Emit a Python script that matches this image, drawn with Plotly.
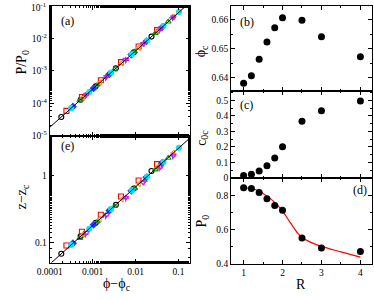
import plotly.graph_objects as go

# ---------------- data: panels (a) and (e) ----------------
# series of phi - phi_c, P/P0 and z - z_c (one list per series)
dphi_s1 = [1.86e-4, 5.25e-4, 1.175e-3, 3.47e-3, 9.12e-3, 2.34e-2]
pa_s1 = [3.78e-5, 1.28e-4, 3.32e-4, 1.19e-3, 3.72e-3, 1.135e-2]
ze_s1 = [0.0678, 0.1236, 0.197, 0.369, 0.647, 1.18]

dphi_s2 = [2.45e-4, 5.62e-4, 1.55e-3, 4.57e-3, 1.175e-2, 3.16e-2]
pa_s2 = [5.8e-5, 1.55e-4, 5.1e-4, 1.85e-3, 5.6e-3, 1.8e-2]
ze_s2 = [0.090, 0.145, 0.26, 0.49, 0.85, 1.5]

dphi_s3 = [5.01e-4, 1.29e-3, 3.24e-3, 9.55e-3, 2.88e-2, 5.75e-2]
pa_s3 = [1.21e-4, 3.70e-4, 1.10e-3, 3.93e-3, 1.45e-2, 3.27e-2]
ze_s3 = [0.116, 0.205, 0.350, 0.655, 1.24, 1.85]

dphi_s4 = [3.47e-4, 1.05e-3, 2.45e-3, 7.94e-3, 1.78e-2, 4.07e-2]
pa_s4 = [7.85e-5, 2.90e-4, 7.91e-4, 3.16e-3, 8.18e-3, 2.18e-2]
ze_s4 = [0.0970, 0.1845, 0.302, 0.597, 0.953, 1.54]

dphi_s5 = [3.16e-4, 8.32e-4, 2.69e-3, 8.13e-3, 1.86e-2, 4.47e-2, 0.102]
pa_s5 = [7.05e-5, 2.21e-4, 8.81e-4, 3.25e-3, 8.65e-3, 2.43e-2, 6.46e-2]
ze_s5 = [0.0920, 0.161, 0.318, 0.605, 0.979, 1.63, 2.63]

dphi_s6 = [6.03e-4, 1.48e-3, 4.79e-3, 1.20e-2, 3.31e-2, 7.59e-2]
pa_s6 = [1.51e-4, 4.36e-4, 1.74e-3, 5.15e-3, 1.71e-2, 4.53e-2]
ze_s6 = [0.1337, 0.225, 0.445, 0.759, 1.37, 2.21]

dphi_s7 = [7.08e-4, 2.09e-3, 5.89e-3, 1.51e-2, 3.80e-2, 7.59e-2]
pa_s7 = [1.82e-4, 6.55e-4, 2.22e-3, 6.76e-3, 2.00e-2, 4.53e-2]
ze_s7 = [0.140, 0.26, 0.47, 0.80, 1.36, 2.03]

dphi_s8 = [6.76e-4, 2.00e-3, 5.89e-3, 1.58e-2, 3.55e-2, 7.24e-2]
pa_s8 = [1.73e-4, 6.19e-4, 2.1e-3, 7.14e-3, 1.85e-2, 4.30e-2]
ze_s8 = [0.133, 0.25, 0.46, 0.83, 1.31, 1.98]

fit_dphi = [1e-4, 0.2]
fit_pa = [1.81e-5, 0.142]
fit_ze = [0.0472, 3.88]

# ---------------- data: panels (b), (c), (d) ----------------
R = [1, 1.2, 1.4, 1.6, 1.8, 2, 2.5, 3, 4]
phi_c = [0.638, 0.6406, 0.6463, 0.6523, 0.6572, 0.6607, 0.6598, 0.6541, 0.6472]
c0c = [0.015, 0.023, 0.044, 0.078, 0.128, 0.200, 0.365, 0.432, 0.495]
P0 = [0.846, 0.842, 0.819, 0.781, 0.742, 0.713, 0.549, 0.491, 0.470]
R_fit = [1, 1.2, 1.4, 1.6, 1.8, 2, 2.2, 2.4, 2.5, 2.7, 3, 3.5, 4]
P0_fit = [0.846, 0.842, 0.826, 0.797, 0.760, 0.708, 0.640, 0.575, 0.553, 0.527, 0.500, 0.468, 0.437]

FONT = "Liberation Serif"
TF = 9.5

series = [
    (dphi_s1, pa_s1, ze_s1, "circle-open", "black"),
    (dphi_s2, pa_s2, ze_s2, "square-open", "red"),
    (dphi_s3, pa_s3, ze_s3, "triangle-up-open", "#00a000"),
    (dphi_s4, pa_s4, ze_s4, "diamond", "#1f3fff"),
    (dphi_s5, pa_s5, ze_s5, "circle", "#00e5ff"),
    (dphi_s6, pa_s6, ze_s6, "triangle-left-open", "#ff9a00"),
    (dphi_s7, pa_s7, ze_s7, "triangle-down-open", "#ff00ff"),
    (dphi_s8, pa_s8, ze_s8, "cross-thin-open", "#9440d0"),
]

fig = go.Figure()
for dx, pa, ze, sym, col in series:
    mk = dict(symbol=sym, size=5, color=col, line=dict(color=col, width=1.1))
    fig.add_trace(go.Scatter(x=dx, y=pa, mode="markers", marker=mk, xaxis="x", yaxis="y"))
    fig.add_trace(go.Scatter(x=dx, y=ze, mode="markers", marker=mk, xaxis="x2", yaxis="y2"))

fig.add_trace(go.Scatter(x=fit_dphi, y=fit_pa, mode="lines", line=dict(color="black", width=1), xaxis="x", yaxis="y"))
fig.add_trace(go.Scatter(x=fit_dphi, y=fit_ze, mode="lines", line=dict(color="black", width=1), xaxis="x2", yaxis="y2"))

dot = dict(symbol="circle", size=7, color="black")
fig.add_trace(go.Scatter(x=R, y=phi_c, mode="markers", marker=dot, xaxis="x3", yaxis="y3"))
fig.add_trace(go.Scatter(x=R, y=c0c, mode="markers", marker=dot, xaxis="x4", yaxis="y4"))
fig.add_trace(go.Scatter(x=R_fit, y=P0_fit, mode="lines", line=dict(color="red", width=1.2, shape="spline"), xaxis="x5", yaxis="y5"))
fig.add_trace(go.Scatter(x=R, y=P0, mode="markers", marker=dot, xaxis="x5", yaxis="y5"))

W, H = 374, 300
def px_x(a, b):
    return [a / W, b / W]
def px_y(top, bot):
    return [1 - bot / H, 1 - top / H]

base = dict(showline=True, linecolor="black", linewidth=1, mirror="ticks", ticks="inside",
            ticklen=4, tickwidth=1, tickcolor="black", showgrid=False, zeroline=False,
            tickfont=dict(family=FONT, size=TF, color="black"))
minor = dict(ticks="inside", ticklen=2, tickcolor="black", tickwidth=1, showgrid=False)

LX = px_x(38, 183)
RX = px_x(226, 372)

dec_vals = [1e-4, 1e-3, 1e-2, 1e-1]
dec_text = ["0.0001", "0.001", "0.01", "0.1"]
pa_vals = [1e-5, 1e-4, 1e-3, 1e-2, 1e-1]
pa_text = ["10<sup>-5</sup>", "10<sup>-4</sup>", "10<sup>-3</sup>", "10<sup>-2</sup>", ""]

fig.update_layout(
    width=W, height=H, margin=dict(l=0, r=0, t=0, b=0),
    paper_bgcolor="white", plot_bgcolor="white", showlegend=False,
    xaxis=dict(base, type="log", range=[-4.001, -0.742], domain=LX, anchor="y",
               tickvals=dec_vals, showticklabels=False, minor=minor),
    yaxis=dict(base, type="log", range=[-5.001, -0.998], domain=px_y(6, 138), anchor="x",
               tickvals=pa_vals, ticktext=pa_text, minor=minor),
    xaxis2=dict(base, type="log", range=[-4.001, -0.742], domain=LX, anchor="y2",
                tickvals=dec_vals, ticktext=dec_text, minor=minor),
    yaxis2=dict(base, type="log", range=[-1.301, 0.602], domain=px_y(138, 267), anchor="x2",
                tickvals=[0.1, 1], ticktext=["0.1", "1"], minor=minor),
    xaxis3=dict(base, range=[0.68, 4.3], domain=RX, anchor="y3", dtick=1, tick0=0,
                showticklabels=False, minor=dict(minor, dtick=0.5)),
    yaxis3=dict(base, range=[0.6352, 0.6648], domain=px_y(6, 93), anchor="x3",
                tickvals=[0.64, 0.65, 0.66], ticktext=["0.64", "0.65", "0.66"],
                minor=dict(minor, dtick=0.005, tick0=0.635)),
    xaxis4=dict(base, range=[0.68, 4.3], domain=RX, anchor="y4", dtick=1, tick0=0,
                showticklabels=False, minor=dict(minor, dtick=0.5)),
    yaxis4=dict(base, range=[-0.001, 0.557], domain=px_y(93, 181), anchor="x4",
                tickvals=[0, 0.1, 0.2, 0.3, 0.4, 0.5], ticktext=["0", "0.1", "0.2", "0.3", "0.4", "0.5"],
                minor=dict(minor, dtick=0.05, tick0=0)),
    xaxis5=dict(base, range=[0.68, 4.3], domain=RX, anchor="y5", dtick=1, tick0=0,
                minor=dict(minor, dtick=0.5)),
    yaxis5=dict(base, range=[0.399, 0.904], domain=px_y(181, 268), anchor="x5",
                tickvals=[0.4, 0.6, 0.8], ticktext=["0.4", "0.6", "0.8"],
                minor=dict(minor, dtick=0.1, tick0=0)),
)

def ann(text, x, y, size=13, angle=0, xanchor="center"):
    fig.add_annotation(text=text, x=x / W, y=1 - y / H, xref="paper", yref="paper",
                       showarrow=False, textangle=angle,
                       font=dict(family=FONT, size=size, color="black"),
                       xanchor=xanchor, yanchor="middle")

ann("10<sup>-1</sup>", 36, 7, TF, 0, "right")
ann("(a)", 56, 21, 12)
ann("(e)", 56, 148, 12)
ann("(b)", 242, 22, 12)
ann("(c)", 242, 107, 12)
ann("(d)", 359, 193, 12)
ann("P/P<sub>0</sub>", 10, 64, 14, -90)
ann("z\u2212z<sub>c</sub>", 10, 200, 14, -90)
ann("\u03d5\u2212\u03d5<sub>c</sub>", 108, 289, 14)
ann("\u03d5<sub>c</sub>", 195, 52, 14, -90)
ann("c<sub>0c</sub>", 196, 140, 14, -90)
ann("P<sub>0</sub>", 196, 225, 14, -90)
ann("R", 298, 289, 14)

fig.write_html("out.html", config={"displayModeBar": False},
               post_script="document.body.style.margin='0';document.body.style.overflow='hidden';")
